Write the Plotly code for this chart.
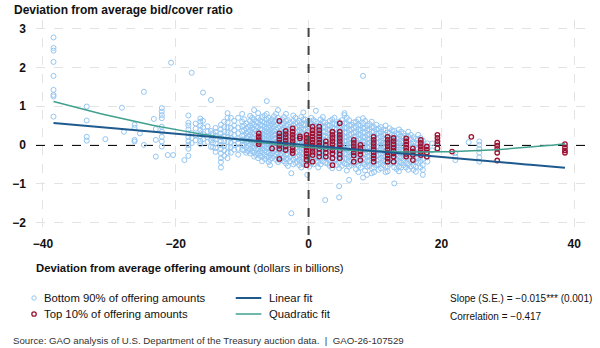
import plotly.graph_objects as go

# Auctions in the bottom 90% of offering amounts: x position of each column of
# auctions (deviation from average offering amount, $ billions) and the
# bid/cover deviations observed at that offering amount.
bottom_x = [
    -38.4, -33.4, -30.6, -28.1, -27.8, -26.2, -25.4, -24.8, -23.3, -23.0,
    -22.1, -21.2, -20.7, -20.4, -18.7, -18.1, -17.6, -17.0, -16.3, -15.9,
    -15.2, -14.7, -14.0, -13.2, -12.2, -11.2, -10.6, -10.0, -9.4, -8.8,
    -8.2, -7.6, -7.0, -6.3, -5.8, -5.2, -4.6, -4.0, -3.4, -2.8,
    -2.6, -2.0, -1.4, -0.8, -0.2, 0.4, 1.1, 1.8, 2.5, 3.2,
    3.9, 4.6, 5.4, 6.1, 6.8, 7.5, 8.2, 8.8, 9.5, 10.2,
    10.9, 11.6, 12.2, 12.9, 13.6, 14.3, 15.0, 15.8, 16.5, 17.2,
    17.9, 18.6, 19.4, 22.1, 24.1, 25.7,
    -14.4, -12.7, -11.7, -9.7, -9.1, -8.5, -7.9, -7.3, -6.6, -6.0,
    -5.5, -4.9, -4.3, -3.7, -3.1, -2.3, -1.7, -1.1, -0.5, 0.1,
    0.75, 1.45, 2.15, 2.85, 3.55, 4.25, 5.0, 5.75, 6.45, 7.15,
    7.85, 8.5, 9.15, 9.85, 10.55, 11.25, 11.9, 12.55, 13.25, 13.95,
    14.65, 15.4, 16.15, 16.85,
]
bottom_y = [
    [2.77, 2.5, 2.43, 2.14, 1.78, 1.42, 1.29, 1.25, 0.73],
    [0.99, 0.63, 0.21, 0.11],
    [0.15],
    [0.96],
    [0.34],
    [0.52, 0.44, 0.13, 0.09],
    [0.30],
    [1.37, 0.0],
    [0.67],
    [0.41, 0.13, -0.30],
    [0.95, 0.86, 0.77, 0.69, 0.47, 0.34, 0.21, 0.09, -0.04],
    [-0.26],
    [2.12],
    [-0.26],
    [-0.39],
    [0.76, 0.57, 0.5, 0.4, 0.3, 0.2, 0.1, 0.0, -0.1, -0.28],
    [1.86, 0.3, 0.18, 0.05],
    [0.55, 0.42, 0.25, 0.12],
    [0.68, 0.6, 0.5, 0.38, 0.3, 0.22, 0.1, 0.02],
    [1.35, 0.62, 0.45, 0.28, 0.15],
    [0.48, 0.35, 0.2, 0.08],
    [1.16, 0.36, 0.12, -0.05],
    [0.44, 0.34, 0.24, 0.14, 0.04, -0.08, -0.18],
    [0.52, 0.4, 0.3, 0.2, 0.1, 0.0, -0.1, -0.22, -0.34, -0.44, -0.58],
    [0.82, 0.7, 0.58, 0.45, 0.32, 0.2, 0.08, -0.05, -0.2, -0.34],
    [0.62, 0.5, 0.38, 0.26, 0.12, 0.0, -0.12],
    [0.7, 0.45, 0.3, 0.15, 0.05, -0.1, -0.25],
    [0.8, 0.6, 0.48, 0.36, 0.24, 0.12, 0.0, -0.12],
    [0.55, 0.42, 0.3, 0.18, 0.06, -0.06, -0.2],
    [0.75, 0.62, 0.5, 0.38, 0.26, 0.14, 0.02, -0.1, -0.22],
    [0.9, 0.66, 0.52, 0.4, 0.28, 0.16, 0.04, -0.08, -0.2, -0.3],
    [0.82, 0.7, 0.58, 0.46, 0.34, 0.24, 0.12, 0.02, -0.1, -0.22, -0.34],
    [0.72, 0.6, 0.5, 0.4, 0.3, 0.2, 0.1, 0.0, -0.1, -0.2, -0.3, -0.42],
    [1.13, 0.8, 0.66, 0.54, 0.42, 0.32, 0.22, 0.12, 0.02, -0.08, -0.18, -0.3],
    [0.62, 0.5, 0.38, 0.28, 0.18, 0.08, -0.02, -0.14, -0.26, -0.38, -0.52],
    [0.74, 0.6, 0.48, 0.36, 0.26, 0.16, 0.06, -0.04, -0.16, -0.28],
    [0.9, 0.7, 0.56, 0.44, 0.32, 0.22, 0.12, 0.02, -0.08, -0.2, -0.32, -0.44],
    [0.66, 0.52, 0.4, 0.3, 0.2, 0.1, 0.0, -0.1, -0.22, -0.34],
    [0.8, 0.62, 0.5, 0.38, 0.28, 0.18, 0.08, -0.02, -0.12, -0.24, -0.36, -0.48],
    [0.58, 0.46, 0.34, 0.24, 0.14, 0.04, -0.06, -0.18, -0.3, -0.42],
    [-0.73, -1.76],
    [0.7, 0.56, 0.44, 0.32, 0.22, 0.12, 0.02, -0.08, -0.2, -0.32, -0.46],
    [0.62, 0.5, 0.38, 0.26, 0.16, 0.06, -0.04, -0.14, -0.26, -0.38, -0.52],
    [0.84, 0.66, 0.52, 0.4, 0.28, 0.18, 0.08, -0.02, -0.12, -0.24, -0.36, -0.5],
    [0.6, 0.46, 0.34, 0.22, 0.12, 0.02, -0.08, -0.2, -0.32, -0.44, -0.77],
    [0.7, 0.55, 0.42, 0.3, 0.2, 0.1, 0.0, -0.1, -0.22, -0.34, -0.48],
    [0.88, 0.6, 0.48, 0.36, 0.24, 0.14, 0.04, -0.06, -0.18, -0.3, -0.42],
    [0.66, 0.52, 0.4, 0.28, 0.18, 0.08, -0.02, -0.12, -0.24, -0.36, -0.5],
    [0.58, 0.46, 0.34, 0.22, 0.12, 0.02, -0.08, -0.2, -0.32, -0.46, -1.42],
    [0.62, 0.5, 0.38, 0.26, 0.14, 0.04, -0.06, -0.16, -0.28, -0.4, -0.54],
    [0.7, 0.54, 0.42, 0.3, 0.18, 0.08, -0.02, -0.14, -0.26, -0.38],
    [0.6, 0.46, 0.34, 0.22, 0.12, 0.02, -0.08, -0.2, -0.32, -0.46, -0.6, -1.06, -1.35],
    [0.82, 0.77, 0.56, 0.44, 0.32, 0.2, 0.1, 0.0, -0.1, -0.22, -0.34, -0.48],
    [0.64, 0.5, 0.38, 0.26, 0.14, 0.04, -0.06, -0.18, -0.3, -0.42, -0.56, -0.9],
    [0.58, 0.44, 0.32, 0.2, 0.1, 0.0, -0.1, -0.22, -0.34, -0.48],
    [0.66, 0.52, 0.4, 0.28, 0.16, 0.06, -0.04, -0.16, -0.28, -0.4, -0.54, -0.7],
    [1.78, 0.69, 0.56, 0.44, 0.32, 0.2, 0.1, 0.0, -0.1, -0.22, -0.34, -0.46, -0.84],
    [0.5, 0.38, 0.26, 0.14, 0.04, -0.06, -0.18, -0.3, -0.42, -0.56, -0.77],
    [0.6, 0.46, 0.34, 0.22, 0.1, 0.0, -0.1, -0.22, -0.34, -0.46, -0.6, -0.73],
    [0.52, 0.4, 0.28, 0.16, 0.06, -0.04, -0.16, -0.28, -0.4, -0.52],
    [0.46, 0.34, 0.22, 0.1, 0.0, -0.1, -0.22, -0.34, -0.46, -0.6],
    [0.5, 0.38, 0.26, 0.14, 0.04, -0.06, -0.18, -0.3, -0.42, -0.56, -0.7],
    [0.43, 0.3, 0.18, 0.06, -0.04, -0.14, -0.26, -0.38, -0.5],
    [0.36, 0.24, 0.12, 0.02, -0.08, -0.2, -0.32, -0.44, -0.58, -0.99],
    [0.4, 0.28, 0.16, 0.04, -0.06, -0.18, -0.3, -0.42, -0.56, -0.68],
    [0.3, 0.18, 0.06, -0.04, -0.16, -0.28, -0.4, -0.52],
    [0.34, 0.22, 0.1, 0.0, -0.12, -0.24, -0.36, -0.5, -0.64],
    [0.2, 0.08, -0.04, -0.16, -0.28, -0.4, -0.52, -0.64],
    [0.26, 0.14, 0.02, -0.1, -0.22, -0.34, -0.46],
    [0.12, 0.0, -0.12, -0.24, -0.36, -0.52, -0.64, -0.77],
    [0.04, -0.08, -0.2, -0.32, -0.43],
    [0.04, -0.14],
    [0.08],
    [-0.21, -0.3, -0.39],
    [0.07],
    [0.09, 0.0, -0.1, -0.2, -0.32, -0.43],
    [0.3, 0.18, 0.06, -0.06],
    [0.6, 0.46, 0.34, 0.22, 0.1, -0.02, -0.14, -0.28],
    [0.7, 0.44, 0.3, 0.18, 0.06, -0.06, -0.2],
    [0.66, 0.5, 0.38, 0.24, 0.12, 0.0, -0.14],
    [0.46, 0.34, 0.22, 0.1, -0.02, -0.16],
    [0.7, 0.56, 0.44, 0.32, 0.2, 0.08, -0.04, -0.16],
    [0.6, 0.48, 0.36, 0.24, 0.12, 0.0, -0.12, -0.26],
    [0.64, 0.52, 0.4, 0.28, 0.18, 0.07, -0.04, -0.16, -0.28],
    [0.76, 0.58, 0.46, 0.36, 0.26, 0.16, 0.06, -0.04, -0.14, -0.25, -0.36],
    [0.7, 0.56, 0.44, 0.34, 0.24, 0.14, 0.04, -0.08, -0.2, -0.32, -0.44],
    [0.66, 0.54, 0.42, 0.32, 0.22, 0.12, 0.02, -0.1, -0.22, -0.34],
    [0.8, 0.64, 0.52, 0.4, 0.28, 0.18, 0.08, -0.02, -0.12, -0.24, -0.38],
    [0.6, 0.48, 0.36, 0.26, 0.16, 0.06, -0.04, -0.14, -0.26, -0.4],
    [0.72, 0.56, 0.44, 0.34, 0.24, 0.14, 0.04, -0.06, -0.18, -0.3, -0.42],
    [0.64, 0.52, 0.4, 0.3, 0.2, 0.1, 0.0, -0.12, -0.24, -0.36, -0.54],
    [0.76, 0.62, 0.5, 0.38, 0.28, 0.17, 0.07, -0.03, -0.14, -0.26, -0.38, -0.5],
    [0.58, 0.46, 0.34, 0.24, 0.14, 0.04, -0.06, -0.18, -0.3, -0.44],
    [0.72, 0.56, 0.44, 0.32, 0.22, 0.12, 0.02, -0.08, -0.2, -0.32, -0.44, -0.58],
    [0.66, 0.52, 0.4, 0.28, 0.18, 0.08, -0.04, -0.14, -0.26, -0.38, -0.52],
    [0.62, 0.48, 0.36, 0.26, 0.16, 0.06, -0.04, -0.16, -0.28, -0.4, -0.56],
    [0.64, 0.5, 0.38, 0.26, 0.16, 0.06, -0.04, -0.14, -0.26, -0.38, -0.5],
    [0.56, 0.44, 0.32, 0.22, 0.12, 0.02, -0.08, -0.2, -0.32, -0.44, -0.58],
    [0.72, 0.6, 0.46, 0.34, 0.24, 0.14, 0.04, -0.06, -0.18, -0.3, -0.42],
    [0.52, 0.4, 0.3, 0.2, 0.1, 0.0, -0.1, -0.22, -0.34, -0.48],
    [0.66, 0.56, 0.44, 0.32, 0.2, 0.1, 0.0, -0.1, -0.22, -0.34, -0.46, -0.6],
    [0.52, 0.4, 0.28, 0.16, 0.06, -0.04, -0.14, -0.26, -0.38, -0.52],
    [0.64, 0.5, 0.38, 0.26, 0.16, 0.06, -0.04, -0.16, -0.28, -0.4, -0.54],
    [0.7, 0.56, 0.44, 0.32, 0.2, 0.1, 0.0, -0.12, -0.24, -0.36, -0.5, -0.66],
    [0.52, 0.4, 0.28, 0.16, 0.06, -0.04, -0.14, -0.26, -0.38, -0.52],
    [0.6, 0.46, 0.34, 0.22, 0.12, 0.02, -0.1, -0.22, -0.34, -0.46, -0.62],
    [0.5, 0.38, 0.26, 0.14, 0.04, -0.06, -0.18, -0.3, -0.42, -0.58],
    [0.62, 0.44, 0.32, 0.2, 0.08, -0.02, -0.12, -0.24, -0.36, -0.5, -0.66],
    [0.54, 0.4, 0.28, 0.16, 0.06, -0.04, -0.16, -0.28, -0.4, -0.54],
    [0.46, 0.34, 0.22, 0.12, 0.02, -0.08, -0.2, -0.32, -0.44, -0.58, -0.7],
    [0.42, 0.3, 0.18, 0.06, -0.04, -0.14, -0.26, -0.38, -0.5, -0.64],
    [0.4, 0.28, 0.16, 0.06, -0.04, -0.16, -0.28, -0.4, -0.52],
    [0.32, 0.22, 0.1, 0.0, -0.1, -0.2, -0.32, -0.44, -0.56, -0.68],
    [0.38, 0.26, 0.14, 0.02, -0.1, -0.22, -0.34, -0.46],
    [0.3, 0.18, 0.08, -0.02, -0.12, -0.24, -0.36, -0.48, -0.62],
    [0.34, 0.22, 0.1, -0.02, -0.12, -0.22, -0.34, -0.46, -0.58],
    [0.24, 0.12, 0.02, -0.1, -0.22, -0.34, -0.46, -0.58],
    [0.26, 0.14, 0.04, -0.06, -0.18, -0.3, -0.42, -0.56],
    [0.16, 0.04, -0.08, -0.2, -0.32, -0.44, -0.56, -0.69],
    [0.18, 0.06, -0.06, -0.18, -0.3, -0.42, -0.58],
]

# Auctions in the top 10% of offering amounts, same layout.
top_x = [
    -7.5, -5.5, -4.4, -3.45, -2.4, -1.3, -0.3, 0.6, 1.6, 2.6,
    3.6, 4.7, 6.8, 7.8, 9.8, 11.9, 12.8, 14.7, 15.7, 16.9,
    17.8, 19.4, 21.6, 24.5, 28.4, 38.6,
]
top_y = [
    [0.3, 0.22, 0.15, 0.08, 0.02],
    [-0.09],
    [0.62, 0.3, 0.22, 0.14, 0.06, -0.02, -0.1, -0.36],
    [0.36, 0.28, 0.2, 0.12, 0.04, -0.04, -0.13],
    [0.43, 0.34, 0.26, 0.18, 0.1, 0.02, -0.06, -0.14, -0.21],
    [0.22, 0.17],
    [0.26, 0.18, 0.1, 0.02, -0.06, -0.14, -0.22, -0.3, -0.38, -0.52],
    [0.47, 0.38, 0.3, 0.22, 0.14, 0.06, -0.02, -0.1, -0.18, -0.26, -0.43],
    [0.47, 0.38, 0.3, 0.22, 0.14, 0.06, -0.02, -0.1, -0.2, -0.3],
    [0.09, 0.0, -0.1, -0.2, -0.3],
    [0.34, 0.26, 0.18, 0.1, 0.02, -0.06, -0.14, -0.22, -0.34, -0.52],
    [0.56, 0.34, 0.26, 0.18, 0.1, 0.02, -0.06, -0.14, -0.24, -0.34],
    [0.13, 0.05, -0.03, -0.11, -0.19, -0.27, -0.43],
    [0.0, -0.08, -0.16, -0.24, -0.39],
    [0.21, 0.13, 0.05, -0.03, -0.11, -0.19, -0.27, -0.35, -0.43],
    [0.21, 0.13, 0.05, -0.03, -0.11, -0.19, -0.27, -0.35, -0.43],
    [0.18, 0.1, 0.02, -0.06, -0.14, -0.22, -0.3, -0.43],
    [0.17, 0.09, 0.01, -0.07, -0.15, -0.23, -0.3],
    [-0.09, -0.17, -0.25, -0.39],
    [0.13, 0.05, -0.03, -0.11, -0.19, -0.26],
    [-0.04, -0.12, -0.2, -0.3],
    [0.26, 0.18, 0.1, 0.02, -0.09],
    [-0.17],
    [0.21],
    [0.06, -0.02, -0.1, -0.2, -0.4],
    [0.02, -0.06, -0.14, -0.2],
]

# Fitted models (y = intercept + slope*x, y = c0 + c1*x + c2*x^2)
linear_fit = {"intercept": -0.01, "slope": -0.015}
quadratic_fit = [-0.064, -0.01425, 0.000432]
fit_x_range = [-38.4, 38.6]

slope_text = "Slope (S.E.) = \u22120.015*** (0.001)"
corr_text = "Correlation = \u22120.417"

x_ticks = [-40, -20, 0, 20, 40]
y_ticks = [-2, -1, 0, 1, 2, 3]

FONT = "Arial, Liberation Sans, sans-serif"
BLUE_PT = "#94c6f2"
RED_PT = "#9c1232"
LIN_COL = "#1f5a8f"
QUAD_COL = "#3fa08f"

W, H = 600, 348
M = dict(l=27, r=12, t=20, b=113)
PW = W - M["l"] - M["r"]
PH = H - M["t"] - M["b"]


def px(x):
    return (x - M["l"]) / PW


def py(y):
    return (H - M["b"] - y) / PH


def flatten(xs, ys):
    fx, fy = [], []
    for x, col in zip(xs, ys):
        for v in col:
            fx.append(x)
            fy.append(v)
    return fx, fy


def minus(v):
    return str(v).replace("-", "\u2212")


bx, by = flatten(bottom_x, bottom_y)
tx, ty = flatten(top_x, top_y)

n = 120
step = (fit_x_range[1] - fit_x_range[0]) / (n - 1)
fx = [fit_x_range[0] + i * step for i in range(n)]
lin_y = [linear_fit["intercept"] + linear_fit["slope"] * x for x in fx]
quad_y = [quadratic_fit[0] + quadratic_fit[1] * x + quadratic_fit[2] * x * x for x in fx]

fig = go.Figure()
fig.add_trace(go.Scatter(
    x=bx, y=by, mode="markers", showlegend=False, hoverinfo="skip",
    marker=dict(symbol="circle-open", size=5, color=BLUE_PT, line=dict(width=1, color=BLUE_PT)),
))
fig.add_trace(go.Scatter(
    x=tx, y=ty, mode="markers", showlegend=False, hoverinfo="skip",
    marker=dict(symbol="circle-open", size=4.5, color=RED_PT, line=dict(width=1.3, color=RED_PT)),
))
fig.add_trace(go.Scatter(x=fx, y=quad_y, mode="lines", showlegend=False, hoverinfo="skip",
                         line=dict(color=QUAD_COL, width=1.5)))
fig.add_trace(go.Scatter(x=fx, y=lin_y, mode="lines", showlegend=False, hoverinfo="skip",
                         line=dict(color=LIN_COL, width=2)))

shapes = [
    # zero reference lines
    dict(type="line", xref="paper", yref="y", x0=0, x1=1, y0=0, y1=0,
         line=dict(color="#111111", width=2, dash="dash"), layer="below"),
    dict(type="line", xref="x", yref="paper", x0=0, x1=0, y0=0, y1=1,
         line=dict(color="#444444", width=2, dash="dash"), layer="above"),
    # legend line samples
    dict(type="line", xref="paper", yref="paper", x0=px(230), x1=px(256), y0=py(298), y1=py(298),
         line=dict(color=LIN_COL, width=2)),
    dict(type="line", xref="paper", yref="paper", x0=px(230), x1=px(256), y0=py(314), y1=py(314),
         line=dict(color=QUAD_COL, width=1.5)),
]
for yy, col, w in [(298, BLUE_PT, 1), (314, RED_PT, 1.3)]:
    shapes.append(dict(type="circle", xref="paper", yref="paper", xsizemode="pixel", ysizemode="pixel",
                       xanchor=px(25), yanchor=py(yy), x0=-2.2, x1=2.2, y0=-2.2, y1=2.2,
                       line=dict(color=col, width=w)))


def label(x, y, text, size=11, color="#111111", anchor="left"):
    return dict(xref="paper", yref="paper", x=px(x), y=py(y), text=text, showarrow=False,
                xanchor=anchor, yanchor="middle", font=dict(family=FONT, size=size, color=color))


annotations = [
    label(3, 10, "<b>Deviation from average bid/cover ratio</b>", size=12),
    label(25, 268, "<b>Deviation from average offering amount</b> (dollars in billions)", size=11.3),
    label(33, 298, "Bottom 90% of offering amounts", size=11.3),
    label(33, 314, "Top 10% of offering amounts", size=11.3),
    label(262, 298, "Linear fit", size=11.3),
    label(262, 314, "Quadratic fit", size=11.3),
    label(446, 298, slope_text, size=10),
    label(446, 316, corr_text, size=10),
    label(2, 340, "Source: GAO analysis of U.S. Department of the Treasury auction data.  |  GAO-26-107529",
          size=9.7, color="#333333"),
]

fig.update_layout(
    width=W, height=H, margin=M,
    paper_bgcolor="white", plot_bgcolor="white",
    font=dict(family=FONT, color="#111111"),
    shapes=shapes, annotations=annotations, showlegend=False,
)
fig.update_xaxes(
    range=[-41.04, 42.07], tickvals=x_ticks, ticktext=[minus(v) for v in x_ticks],
    tickfont=dict(size=12, family=FONT, color="#111111", weight="bold"),
    showgrid=True, gridcolor="#e3e3e3", griddash="dash", gridwidth=1,
    zeroline=False, showline=False, ticks="",
)
fig.update_yaxes(
    range=[-2.32, 3.22], tickvals=y_ticks, ticktext=[minus(v) for v in y_ticks],
    tickfont=dict(size=12, family=FONT, color="#111111", weight="bold"),
    showgrid=True, gridcolor="#e3e3e3", griddash="dash", gridwidth=1,
    zeroline=False, showline=False, ticks="", ticklabelstandoff=9,
)

fig.write_html("out.html")
